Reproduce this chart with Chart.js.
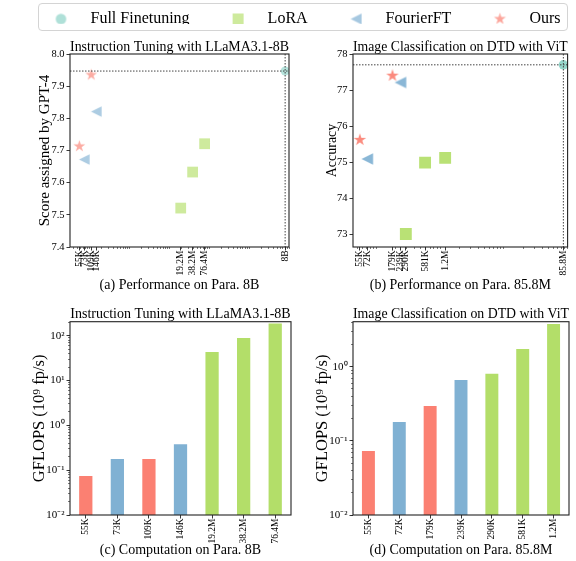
<!DOCTYPE html>
<html>
<head>
<meta charset="utf-8">
<script src="https://cdn.jsdelivr.net/npm/chart.js@4.4.1/dist/chart.umd.min.js"></script>
<style>
  html, body { margin: 0; padding: 0; background: #fff; overflow: hidden; }
  #fig { position: relative; width: 576px; height: 561px; overflow: hidden; }
  .cell { position: absolute; }
  #legend-frame {
    position: absolute; left: 38px; top: 3px; width: 530px; height: 28px;
    box-sizing: border-box; border: 1px solid #d4d4d4; border-radius: 4px;
  }
</style>
</head>
<body>
<div id="fig">
  <div id="legend-frame"></div>
  <div class="cell" style="left:-50px;top:-16px"><canvas id="legend" width="700" height="80"></canvas></div>
  <div class="cell" style="left:0;top:30px"><canvas id="perfLlama" width="300" height="270"></canvas></div>
  <div class="cell" style="left:300px;top:30px"><canvas id="perfVit" width="276" height="270"></canvas></div>
  <div class="cell" style="left:0;top:290px"><canvas id="compLlama" width="300" height="271"></canvas></div>
  <div class="cell" style="left:300px;top:290px"><canvas id="compVit" width="276" height="271"></canvas></div>
</div>

<script>
// ---- données ----

// (a) Instruction tuning, LLaMA3.1-8B : paramètres entraînables / score GPT-4
const llamaFullParams = [8e9];
const llamaFullScore = [7.947];
const llamaLoraParams = [19.2e6, 38.2e6, 76.4e6];
const llamaLoraScore = [7.521, 7.633, 7.721];
const llamaFourierParams = [73e3, 146e3];
const llamaFourierScore = [7.672, 7.821];
const llamaOursParams = [55e3, 109e3];
const llamaOursScore = [7.713, 7.935];
const llamaTickValues = [55e3, 73e3, 109e3, 146e3, 19.2e6, 38.2e6, 76.4e6, 8e9];
const llamaTickLabels = ["55K", "73K", "109K", "146K", "19.2M", "38.2M", "76.4M", "8B"];
const llamaScoreTicks = [7.4, 7.5, 7.6, 7.7, 7.8, 7.9, 8.0];

// (b) Image classification DTD, ViT : paramètres / accuracy
const vitFullParams = [85.8e6];
const vitFullAcc = [77.7];
const vitLoraParams = [290e3, 581e3, 1.2e6];
const vitLoraAcc = [73.01, 74.99, 75.12];
const vitFourierParams = [72e3, 239e3];
const vitFourierAcc = [75.09, 77.21];
const vitOursParams = [55e3, 179e3];
const vitOursAcc = [75.62, 77.4];
const vitTickValues = [55e3, 72e3, 179e3, 239e3, 290e3, 581e3, 1.2e6, 85.8e6];
const vitTickLabels = ["55K", "72K", "179K", "239K", "290K", "581K", "1.2M", "85.8M"];
const vitAccTicks = [73, 74, 75, 76, 77, 78];

// (c) GFLOPS, LLaMA3.1-8B
const llamaBarLabels = ["55K", "73K", "109K", "146K", "19.2M", "38.2M", "76.4M"];
const llamaBarMethods = ["Ours", "FourierFT", "Ours", "FourierFT", "LoRA", "LoRA", "LoRA"];
const llamaGflops = [0.074, 0.178, 0.178, 0.38, 43, 89, 188];
const llamaGflopsTicks = [1e-2, 1e-1, 1, 10, 100];

// (d) GFLOPS, ViT
const vitBarLabels = ["55K", "72K", "179K", "239K", "290K", "581K", "1.2M"];
const vitBarMethods = ["Ours", "FourierFT", "Ours", "FourierFT", "LoRA", "LoRA", "LoRA"];
const vitGflops = [0.073, 0.18, 0.295, 0.66, 0.8, 1.73, 3.76];
const vitGflopsTicks = [1e-2, 1e-1, 1];

const methodNames = ["Full Finetuning", "LoRA", "FourierFT", "Ours"];

// ---- style ----
const FONT = "'Liberation Serif', 'Times New Roman', serif";
Chart.defaults.font.family = FONT;
Chart.defaults.color = "#000";

const RGB = {
  "Full Finetuning": [141, 211, 199],
  "LoRA": [179, 222, 105],
  "FourierFT": [128, 177, 211],
  "Ours": [251, 128, 114]
};
const rgba = (name, a) => `rgba(${RGB[name].join(",")},${a})`;

// Petits canvas pour les marqueurs (étoile et triangle façon matplotlib)
function markerImage(shape, size, color) {
  const c = document.createElement("canvas");
  const s = Math.ceil(size * 2 + 2);
  c.width = s;
  c.height = s;
  const g = c.getContext("2d");
  const m = s / 2;
  g.fillStyle = color;
  g.beginPath();
  if (shape === "circle") {
    g.arc(m, m, size, 0, Math.PI * 2);
  } else if (shape === "square") {
    g.rect(m - size, m - size, size * 2, size * 2);
  } else if (shape === "triangle") {
    // triangle pointant vers la gauche
    g.moveTo(m - size, m);
    g.lineTo(m + size, m - size);
    g.lineTo(m + size, m + size);
  } else if (shape === "star") {
    for (let k = 0; k < 10; k++) {
      const r = k % 2 === 0 ? size : size * 0.382;
      const a = -Math.PI / 2 + k * Math.PI / 5;
      g.lineTo(m + r * Math.cos(a), m + r * Math.sin(a));
    }
  }
  g.closePath();
  g.fill();
  return c;
}

const zip = (xs, ys) => xs.map((x, i) => ({ x: x, y: ys[i] }));
const SUP = { "-": "\u207B", "0": "\u2070", "1": "\u00B9", "2": "\u00B2", "3": "\u00B3", "4": "\u2074",
  "5": "\u2075", "6": "\u2076", "7": "\u2077", "8": "\u2078", "9": "\u2079" };
const powLabel = v => "10" + String(Math.round(Math.log10(v))).split("").map(ch => SUP[ch]).join("");

function minorLogTicks(min, max) {
  const out = [];
  for (let e = Math.floor(Math.log10(min)); e <= Math.ceil(Math.log10(max)); e++) {
    for (let k = 1; k < 10; k++) {
      const v = k * Math.pow(10, e);
      if (v >= min && v <= max) out.push({ value: v });
    }
  }
  return out;
}

// cadre complet autour de la zone de tracé
const framePlugin = {
  id: "frame",
  afterDraw(chart) {
    const { ctx, chartArea: a } = chart;
    ctx.save();
    ctx.strokeStyle = "#222";
    ctx.lineWidth = 1.1;
    ctx.strokeRect(a.left, a.top, a.right - a.left, a.bottom - a.top);
    ctx.restore();
  }
};

// lignes pointillées passant par le point "Full Finetuning"
const refLinePlugin = {
  id: "refLines",
  afterDatasetsDraw(chart, args, opts) {
    if (opts.x == null) return;
    const { ctx, chartArea: a, scales } = chart;
    const px = scales.x.getPixelForValue(opts.x);
    const py = scales.y.getPixelForValue(opts.y);
    ctx.save();
    ctx.strokeStyle = "#444";
    ctx.lineWidth = 1;
    ctx.setLineDash([1.5, 1.5]);
    ctx.beginPath();
    ctx.moveTo(a.left, py);
    ctx.lineTo(a.right, py);
    ctx.moveTo(px, a.top);
    ctx.lineTo(px, a.bottom);
    ctx.stroke();
    ctx.restore();
  }
};

const tickGrid = { drawOnChartArea: false, tickLength: 3.5, tickColor: "#222", tickWidth: 0.9 };
const minorGrid = { drawOnChartArea: false, tickLength: 2, tickColor: "#222", tickWidth: 0.6 };

// ---- légende commune ----
new Chart(document.getElementById("legend"), {
  type: "scatter",
  data: {
    datasets: [
      { label: methodNames[0], data: [], pointStyle: markerImage("circle", 5.3, rgba("Full Finetuning", 0.7)) },
      { label: methodNames[1], data: [], pointStyle: markerImage("square", 5.5, rgba("LoRA", 0.65)) },
      { label: methodNames[2], data: [], pointStyle: markerImage("triangle", 5.5, rgba("FourierFT", 0.7)) },
      { label: methodNames[3], data: [], pointStyle: markerImage("star", 6.3, rgba("Ours", 0.7)) }
    ]
  },
  options: {
    responsive: false,
    animation: false,
    events: [],
    scales: { x: { display: false }, y: { display: false } },
    plugins: {
      tooltip: { enabled: false },
      legend: {
        labels: { usePointStyle: true, pointStyleWidth: 43, padding: 27, font: { size: 16 }, color: "#000" }
      }
    }
  }
});

// ---- graphiques de performance (nuages de points, axe x log) ----
function perfChart(id, cfg) {
  const a = cfg.alpha;
  new Chart(document.getElementById(id), {
    type: "scatter",
    data: {
      datasets: [
        { label: methodNames[0], data: zip(cfg.full[0], cfg.full[1]), pointStyle: "circle",
          pointRadius: cfg.size.circle, backgroundColor: rgba("Full Finetuning", a), borderWidth: 0 },
        { label: methodNames[1], data: zip(cfg.lora[0], cfg.lora[1]), pointStyle: "rect",
          pointRadius: cfg.size.square, backgroundColor: rgba("LoRA", a), borderWidth: 0 },
        { label: methodNames[2], data: zip(cfg.fourier[0], cfg.fourier[1]),
          pointStyle: markerImage("triangle", cfg.size.triangle, rgba("FourierFT", a)) },
        { label: methodNames[3], data: zip(cfg.ours[0], cfg.ours[1]),
          pointStyle: markerImage("star", cfg.size.star, rgba("Ours", a)) }
      ]
    },
    options: {
      responsive: false,
      animation: false,
      events: [],
      layout: { padding: { left: 0, right: cfg.padRight, top: 0, bottom: 0 } },
      plugins: {
        legend: { display: false },
        tooltip: { enabled: false },
        title: { display: true, text: cfg.title, fullSize: false, color: "#000",
          font: { size: 14, weight: "normal", lineHeight: 1 }, padding: { top: 10, bottom: 0 } },
        subtitle: { display: true, text: cfg.caption, position: "bottom", fullSize: false, color: "#000",
          font: { size: 14, weight: "normal", lineHeight: 1 }, padding: { top: 0, bottom: 8 } },
        refLines: { x: cfg.full[0][0], y: cfg.full[1][0] }
      },
      scales: {
        x: {
          type: "logarithmic", position: "bottom", weight: 1, min: cfg.xMin, max: cfg.xMax,
          afterBuildTicks: s => { s.ticks = cfg.tickValues.map(v => ({ value: v })); },
          afterFit: s => { s.height = 31; },
          ticks: { autoSkip: false, minRotation: 90, maxRotation: 90, padding: 0, font: { size: 9.5 },
            callback: (v, i) => cfg.tickLabels[i] },
          grid: tickGrid,
          border: { display: false }
        },
        xMinor: {
          type: "logarithmic", axis: "x", position: "bottom", weight: 0, min: cfg.xMin, max: cfg.xMax,
          afterBuildTicks: s => { s.ticks = minorLogTicks(cfg.xMin, cfg.xMax); },
          afterFit: s => { s.height = 0; },
          ticks: { display: false },
          grid: minorGrid,
          border: { display: false }
        },
        y: {
          type: "linear", min: cfg.yMin, max: cfg.yMax,
          afterBuildTicks: s => { s.ticks = cfg.yTicks.map(v => ({ value: v })); },
          afterFit: s => { s.width = cfg.yAxisWidth; },
          ticks: { padding: 2, font: { size: 10.5 }, callback: v => cfg.yFormat(v) },
          grid: tickGrid,
          border: { display: false },
          title: { display: true, text: cfg.yLabel, color: "#000",
            font: { size: cfg.yLabelSize, lineHeight: 1 }, padding: { top: cfg.yTitlePad, bottom: 0 } }
        }
      }
    },
    plugins: [framePlugin, refLinePlugin]
  });
}

perfChart("perfLlama", {
  title: "Instruction Tuning with LLaMA3.1-8B",
  caption: "(a) Performance on Para. 8B",
  yLabel: "Score assigned by GPT-4",
  yLabelSize: 15,
  full: [llamaFullParams, llamaFullScore],
  lora: [llamaLoraParams, llamaLoraScore],
  fourier: [llamaFourierParams, llamaFourierScore],
  ours: [llamaOursParams, llamaOursScore],
  tickValues: llamaTickValues,
  tickLabels: llamaTickLabels,
  yTicks: llamaScoreTicks,
  yFormat: v => v.toFixed(1),
  xMin: 3.2e4, xMax: 1e10,
  yMin: 7.4, yMax: 8.0,
  alpha: 0.65,
  size: { circle: 4.5, square: 7.6, triangle: 5.3, star: 6.2 },
  yAxisWidth: 70, padRight: 11, yTitlePad: 37.5
});

perfChart("perfVit", {
  title: "Image Classification on DTD with ViT",
  caption: "(b) Performance on Para. 85.8M",
  yLabel: "Accuracy",
  yLabelSize: 14,
  full: [vitFullParams, vitFullAcc],
  lora: [vitLoraParams, vitLoraAcc],
  fourier: [vitFourierParams, vitFourierAcc],
  ours: [vitOursParams, vitOursAcc],
  tickValues: vitTickValues,
  tickLabels: vitTickLabels,
  yTicks: vitAccTicks,
  yFormat: v => String(v),
  xMin: 4.3e4, xMax: 1e8,
  yMin: 72.65, yMax: 78,
  alpha: 0.92,
  size: { circle: 4.7, square: 8.4, triangle: 5.8, star: 6.6 },
  yAxisWidth: 53, padRight: 7, yTitlePad: 25
});

// ---- graphiques de calcul (barres, axe y log) ----
function compChart(id, cfg) {
  new Chart(document.getElementById(id), {
    type: "bar",
    data: {
      labels: cfg.labels,
      datasets: [{
        data: cfg.values,
        backgroundColor: cfg.methods.map(m => rgba(m, 1)),
        borderWidth: 0,
        barPercentage: 0.42,
        categoryPercentage: 1
      }]
    },
    options: {
      responsive: false,
      animation: false,
      events: [],
      layout: { padding: { left: 0, right: cfg.padRight, top: 0, bottom: 0 } },
      plugins: {
        legend: { display: false },
        tooltip: { enabled: false },
        title: { display: true, text: cfg.title, fullSize: false, color: "#000",
          font: { size: 14, weight: "normal", lineHeight: 1 }, padding: { top: 17.7, bottom: 0 } },
        subtitle: { display: true, text: cfg.caption, position: "bottom", fullSize: false, color: "#000",
          font: { size: 14, weight: "normal", lineHeight: 1 }, padding: { top: 0, bottom: 4 } }
      },
      scales: {
        x: {
          type: "category",
          afterFit: s => { s.height = 28; },
          ticks: { autoSkip: false, minRotation: 90, maxRotation: 90, padding: 0, font: { size: 9.5 } },
          grid: Object.assign({ offset: false }, tickGrid),
          border: { display: false }
        },
        y: {
          type: "logarithmic", weight: 1, min: 0.01, max: cfg.yMax,
          afterBuildTicks: s => { s.ticks = cfg.yTicks.map(v => ({ value: v })); },
          afterFit: s => { s.width = cfg.yAxisWidth; },
          ticks: { padding: 2, font: { size: 11 }, callback: v => powLabel(v) },
          grid: tickGrid,
          border: { display: false },
          title: { display: true, text: "GFLOPS (10\u2079 fp/s)", color: "#000",
            font: { size: 16.5, lineHeight: 1 }, padding: { top: cfg.yTitlePad, bottom: 0 } }
        },
        yMinor: {
          type: "logarithmic", axis: "y", position: "left", weight: 0, min: 0.01, max: cfg.yMax,
          afterBuildTicks: s => { s.ticks = minorLogTicks(0.01, cfg.yMax); },
          afterFit: s => { s.width = 0; },
          ticks: { display: false },
          grid: minorGrid,
          border: { display: false }
        }
      }
    },
    plugins: [framePlugin]
  });
}

compChart("compLlama", {
  title: "Instruction Tuning with LLaMA3.1-8B",
  caption: "(c) Computation on Para. 8B",
  labels: llamaBarLabels,
  methods: llamaBarMethods,
  values: llamaGflops,
  yTicks: llamaGflopsTicks,
  yMax: 205,
  yAxisWidth: 70, padRight: 9, yTitlePad: 31.5
});

compChart("compVit", {
  title: "Image Classification on DTD with ViT",
  caption: "(d) Computation on Para. 85.8M",
  labels: vitBarLabels,
  methods: vitBarMethods,
  values: vitGflops,
  yTicks: vitGflopsTicks,
  yMax: 4.04,
  yAxisWidth: 53, padRight: 7, yTitlePad: 14
});
</script>
</body>
</html>
